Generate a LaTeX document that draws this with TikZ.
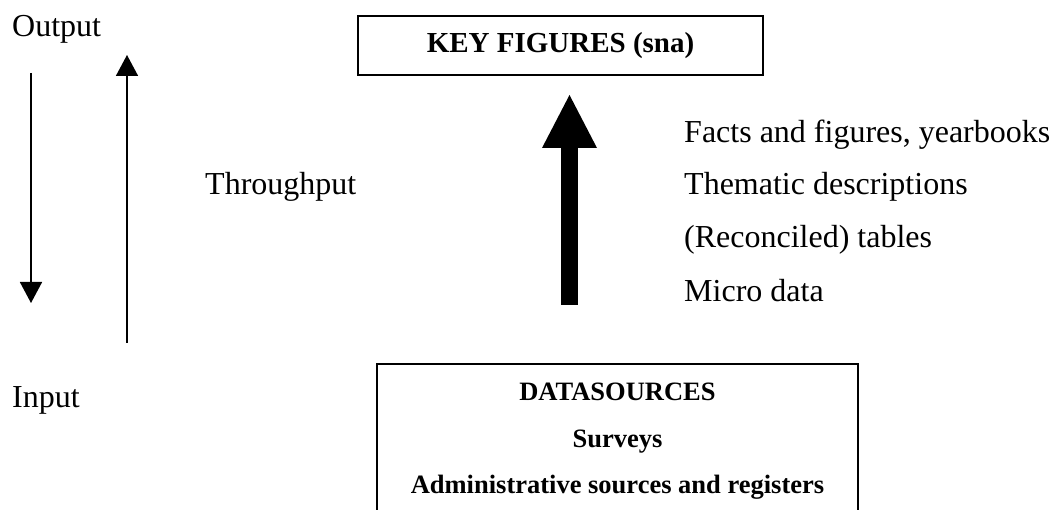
\documentclass[tikz,border=0pt]{standalone}
\usepackage{fontspec}
\setmainfont{Liberation Serif}
\usetikzlibrary{arrows.meta}
\tikzset{
  plain/.style={inner sep=0pt, anchor=base west, font=\fontsize{32}{38}\selectfont},
  keybox/.style={draw, line width=1.6pt, minimum width=405pt, minimum height=59pt,
    inner sep=0pt, font=\fontsize{29}{34}\bfseries\selectfont},
  srcbox/.style={draw, line width=1.6pt, minimum width=481pt, minimum height=200pt,
    inner sep=0pt, anchor=north},
  srctext/.style={inner sep=0pt, anchor=base, font=\fontsize{26.5}{32}\bfseries\selectfont},
  flow/.style={line width=1.6pt, -{Triangle[width=22pt,length=21pt]}},
  bigflow/.style={line width=17pt, -{Triangle[width=55pt,length=53pt,line width=0pt]}}
}
\begin{document}
\begin{tikzpicture}[x=1pt,y=-1pt]
  \useasboundingbox (0,0) rectangle (1055,510);
  \clip (0,0) rectangle (1055,510);

  % level labels
  \node[plain] (out) at (12,37) {Output};
  \node[plain] (thr) at (205,195) {Throughput};
  \node[plain] (in)  at (12,408) {Input};

  % direction arrows on the left
  \coordinate (dtop) at (31,73);
  \coordinate (dbot) at (31,303);
  \coordinate (ubot) at (127,343);
  \coordinate (utop) at (127,55);
  \draw[flow] (dtop) -- (dbot);
  \draw[flow] (ubot) -- (utop);

  % boxes
  \node[keybox] (key) at (560.5,45.5) {KEY FIGURES (sna)};
  \node[srcbox] (src) at (617.5,363) {};
  \node[srctext] (ds)  at (617.5,401) {DATASOURCES};
  \node[srctext] (sv)  at (617.5,447) {Surveys};
  \node[srctext] (adm) at (617.5,493) {Administrative sources and registers};

  % main upward flow
  \coordinate (bbot) at (569.5,305);
  \coordinate (btop) at (569.5,95);
  \draw[bigflow] (bbot) -- (btop);

  % products
  \node[plain] (f1) at (684,143) {Facts and figures, yearbooks};
  \node[plain] (f2) at (684,195) {Thematic descriptions};
  \node[plain] (f3) at (684,248) {(Reconciled) tables};
  \node[plain] (f4) at (684,302) {Micro data};
\end{tikzpicture}
\end{document}
